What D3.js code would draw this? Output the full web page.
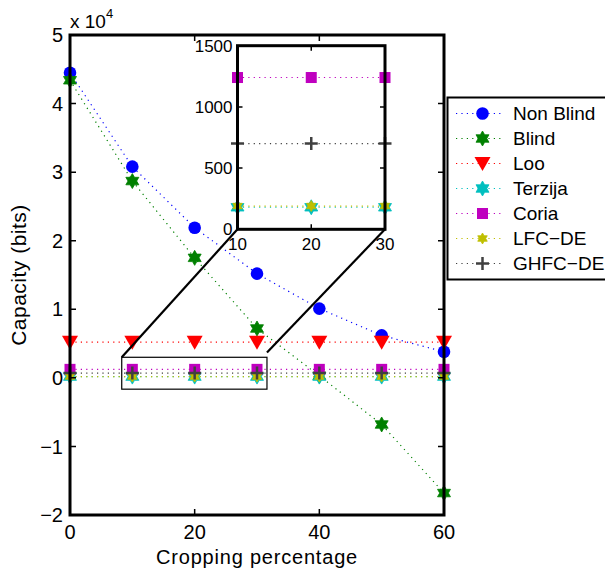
<!DOCTYPE html>
<html>
<head>
<meta charset="utf-8">
<script src="https://cdn.jsdelivr.net/npm/d3@7"></script>
<style>
  body { margin: 0; background: #fff; }
  svg { font-family: "Liberation Sans", Arial, Helvetica, sans-serif; }
</style>
</head>
<body>
<script>
const width = 605;
const height = 570;

// data
const cropping = [0, 10, 20, 30, 40, 50, 60];
const nonBlind = [44500, 30800, 21900, 15200, 10100, 6200, 3800];
const blind = [43400, 28700, 17500, 7200, 300, -6800, -16800];
const loo = [5200, 5200, 5200, 5200, 5200, 5200, 5200];
const terzija = [180, 180, 180, 180, 180, 180, 180];
const coria = [1240, 1240, 1240, 1240, 1240, 1240, 1240];
const lfcde = [190, 190, 190, 190, 190, 190, 190];
const ghfcde = [700, 700, 700, 700, 700, 700, 700];

const names = ['Non Blind', 'Blind', 'Loo', 'Terzija', 'Coria', 'LFC\u2212DE', 'GHFC\u2212DE'];
const colors = ['#0000ff', '#008000', '#ff0000', '#00bfbf', '#bf00bf', '#bfbf00', '#404040'];
const markers = ['circle', 'hexagram', 'triangle', 'hexagram', 'square', 'smallhex', 'plus'];

const yTicks = [-20000, -10000, 0, 10000, 20000, 30000, 40000, 50000];
const xTicks = [0, 20, 40, 60];
const insetX = [10, 20, 30];
const insetYTicks = [0, 500, 1000, 1500];

// zoomed region (data units of the main axes) and connector start points
const zoomBox = { x0: 8.3, x1: 31.6, y0: -1650, y1: 3000 };
const connectors = [
  { from: [8.3, 3000], to: [10, 0] },
  { from: [31.6, 3700], to: [30, 0] },
];

const series = names.map((name, i) => ({
  name,
  color: colors[i],
  marker: markers[i],
  values: [nonBlind, blind, loo, terzija, coria, lfcde, ghfcde][i],
}));

const svg = d3.select('body').append('svg').attr('width', width).attr('height', height);

const x = d3.scaleLinear().domain([0, 60]).range([70, 444]);
const y = d3.scaleLinear().domain([-20000, 50000]).range([515, 35]);

const ix = d3.scaleLinear().domain([10, 30]).range([237.5, 385]);
const iy = d3.scaleLinear().domain([0, 1500]).range([229.3, 45.7]);

function hexagram(r) {
  const pts = [];
  for (let k = 0; k < 12; k++) {
    const a = (Math.PI / 6) * k - Math.PI / 2;
    const rr = k % 2 === 0 ? r : r * 0.577;
    pts.push([rr * Math.cos(a), rr * Math.sin(a)]);
  }
  return 'M' + pts.map((p) => p.join(',')).join('L') + 'Z';
}

function drawMarker(g, type, color, cx, cy) {
  if (type === 'circle') {
    g.append('circle').attr('cx', cx).attr('cy', cy).attr('r', 6.3).attr('fill', color);
  } else if (type === 'hexagram' || type === 'smallhex') {
    const r = type === 'hexagram' ? 7.5 : 5.5;
    g.append('path')
      .attr('d', hexagram(r))
      .attr('transform', `translate(${cx},${cy})`)
      .attr('fill', color)
      .attr('stroke', color)
      .attr('stroke-width', 0.8);
  } else if (type === 'triangle') {
    g.append('path')
      .attr('d', 'M-8,-6.5L8,-6.5L0,7.5Z')
      .attr('transform', `translate(${cx},${cy})`)
      .attr('fill', color);
  } else if (type === 'square') {
    g.append('rect')
      .attr('x', cx - 5.5).attr('y', cy - 5.5)
      .attr('width', 11).attr('height', 11)
      .attr('fill', color);
  } else if (type === 'plus') {
    g.append('path')
      .attr('d', 'M-6.5,0H6.5M0,-6.5V6.5')
      .attr('transform', `translate(${cx},${cy})`)
      .attr('stroke', color)
      .attr('stroke-width', 2.5)
      .attr('fill', 'none');
  }
}

function drawSeries(g, s, xs, sx, sy) {
  const line = d3.line().x((d) => sx(d[0])).y((d) => sy(d[1]));
  const pts = xs.map((xv) => [xv, s.values[cropping.indexOf(xv)]]);
  g.append('path')
    .attr('d', line(pts))
    .attr('fill', 'none')
    .attr('stroke', s.color)
    .attr('stroke-width', 1.2)
    .attr('stroke-dasharray', '1.2,4.2');
  pts.forEach((p) => drawMarker(g, s.marker, s.color, sx(p[0]), sy(p[1])));
}

// main axes box
const main = svg.append('g');
main.append('rect')
  .attr('x', x(0)).attr('y', y(50000))
  .attr('width', x(60) - x(0)).attr('height', y(-20000) - y(50000))
  .attr('fill', '#fff');

series.forEach((s) => drawSeries(main, s, cropping, x, y));

// ticks (inward, both sides) and labels
const tickLen = 6;
yTicks.forEach((t) => {
  main.append('path')
    .attr('d', `M${x(0)},${y(t)}h${tickLen}M${x(60)},${y(t)}h${-tickLen}`)
    .attr('stroke', '#000').attr('stroke-width', 1.5);
  main.append('text')
    .attr('x', x(0) - 7).attr('y', y(t)).attr('dy', '0.36em')
    .attr('text-anchor', 'end').attr('font-size', 20)
    .text(d3.format('d')(t / 10000).replace('-', '\u2212'));
});
xTicks.forEach((t) => {
  main.append('path')
    .attr('d', `M${x(t)},${y(-20000)}v${-tickLen}M${x(t)},${y(50000)}v${tickLen}`)
    .attr('stroke', '#000').attr('stroke-width', 1.5);
  main.append('text')
    .attr('x', x(t)).attr('y', y(-20000) + 24)
    .attr('text-anchor', 'middle').attr('font-size', 20)
    .text(t);
});

main.append('rect')
  .attr('x', x(0)).attr('y', y(50000))
  .attr('width', x(60) - x(0)).attr('height', y(-20000) - y(50000))
  .attr('fill', 'none').attr('stroke', '#000').attr('stroke-width', 3);

// exponent label
const expo = main.append('text').attr('x', x(0)).attr('y', 28).attr('font-size', 19);
expo.append('tspan').text('x 10');
expo.append('tspan').attr('font-size', 13).attr('dy', -10).text('4');

// axis titles
main.append('text')
  .attr('x', (x(0) + x(60)) / 2).attr('y', 564)
  .attr('text-anchor', 'middle').attr('font-size', 20)
  .attr('letter-spacing', 0.8)
  .text('Cropping percentage');
main.append('text')
  .attr('transform', `translate(26,${(y(50000) + y(-20000)) / 2}) rotate(-90)`)
  .attr('text-anchor', 'middle').attr('font-size', 21)
  .attr('letter-spacing', 0.5)
  .text('Capacity (bits)');

// zoom box and connectors
main.append('rect')
  .attr('x', x(zoomBox.x0)).attr('y', y(zoomBox.y1))
  .attr('width', x(zoomBox.x1) - x(zoomBox.x0))
  .attr('height', y(zoomBox.y0) - y(zoomBox.y1))
  .attr('fill', 'none').attr('stroke', '#000').attr('stroke-width', 1.2);
connectors.forEach((c) => {
  main.append('line')
    .attr('x1', x(c.from[0])).attr('y1', y(c.from[1]))
    .attr('x2', ix(c.to[0])).attr('y2', iy(c.to[1]))
    .attr('stroke', '#000').attr('stroke-width', 2.2);
});

// inset axes
const inset = svg.append('g');
inset.append('rect')
  .attr('x', ix(10)).attr('y', iy(1500))
  .attr('width', ix(30) - ix(10)).attr('height', iy(0) - iy(1500))
  .attr('fill', '#fff');

series
  .filter((s) => s.values[0] >= 0 && s.values[0] <= 1500)
  .forEach((s) => drawSeries(inset, s, insetX, ix, iy));

insetYTicks.forEach((t) => {
  inset.append('path')
    .attr('d', `M${ix(10)},${iy(t)}h5M${ix(30)},${iy(t)}h-5`)
    .attr('stroke', '#000').attr('stroke-width', 1.5);
  inset.append('text')
    .attr('x', ix(10) - 5).attr('y', iy(t)).attr('dy', '0.36em')
    .attr('text-anchor', 'end').attr('font-size', 17)
    .text(t);
});
insetX.forEach((t) => {
  inset.append('path')
    .attr('d', `M${ix(t)},${iy(0)}v-5M${ix(t)},${iy(1500)}v5`)
    .attr('stroke', '#000').attr('stroke-width', 1.5);
  inset.append('text')
    .attr('x', ix(t)).attr('y', iy(0) + 21)
    .attr('text-anchor', 'middle').attr('font-size', 17)
    .text(t);
});
inset.append('rect')
  .attr('x', ix(10)).attr('y', iy(1500))
  .attr('width', ix(30) - ix(10)).attr('height', iy(0) - iy(1500))
  .attr('fill', 'none').attr('stroke', '#000').attr('stroke-width', 3);

// legend
const legend = svg.append('g');
legend.append('rect')
  .attr('x', 447.5).attr('y', 97.5)
  .attr('width', 200).attr('height', 182)
  .attr('fill', '#fff').attr('stroke', '#000').attr('stroke-width', 2);
series.forEach((s, i) => {
  const ly = 113.5 + i * 25;
  legend.append('line')
    .attr('x1', 456).attr('x2', 504).attr('y1', ly).attr('y2', ly)
    .attr('stroke', s.color).attr('stroke-width', 1.2)
    .attr('stroke-dasharray', '1.2,4.2');
  drawMarker(legend, s.marker, s.color, 482.5, ly);
  legend.append('text')
    .attr('x', 513).attr('y', ly).attr('dy', '0.36em')
    .attr('font-size', 19)
    .text(s.name);
});
</script>
</body>
</html>
